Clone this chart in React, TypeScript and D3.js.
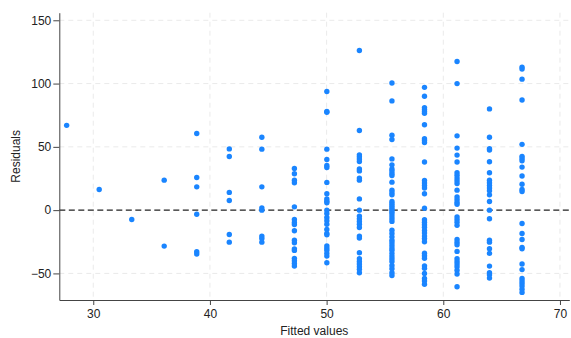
import { useEffect, useRef } from 'react';
import * as d3 from 'd3';

// fitted value for each column of points
const fittedValues = [27.72, 30.51, 33.3, 36.08, 38.87, 41.66, 44.45, 47.24, 50.02, 52.81, 55.6, 58.39, 61.18, 63.96, 66.75];

// residuals at each fitted value (same order as fittedValues)
const residualGroups: number[][] = [
  [67],
  [16.3],
  [-7.4],
  [23.7, -28.4],
  [60.5, 25.8, 18.4, -3.2, -32.9, -34.7],
  [48.4, 42.4, 14.0, 7.6, -19.2, -25.3],
  [57.6, 48.2, 18.4, 1.8, 0, -20.5, -22.4, -25.3],
  [32.9, 28.7, 23.7, 21.6, 2.6, -7.3, -9.7, -11.3, -16.3, -23.7, -25.8, -30.6, -31.8, -38.1, -40.0, -42.1, -44.2],
  [93.7, 77.9, 77.4, 48.2, 40.0, 35.3, 33.7, 21.9, 12.9, 8.9, 7.1, 5.8, 0, -2.6, -5.8, -8.4, -11.1, -15.2, -18.4, -19.5, -28.2, -30.0, -31.6, -34.2, -36.3, -41.6],
  [126.1, 62.9, 43.7, 42.1, 40.5, 38.4, 32.6, 31.0, 25.3, 23.7, 8.9, 0, -4.7, -6.9, -8.9, -11.1, -13.7, -20.5, -22.1, -33.7, -38.4, -40.5, -42.6, -44.7, -46.8, -49.5],
  [100.5, 86.3, 59.2, 55.8, 40.5, 35.8, 32.6, 31, 29, 27.4, 22.1, 15.8, 13.7, 12.1, 6.8, 5.3, 3.7, 2.1, 0.5, -1.1, -2.6, -4.7, -6.8, -8.9, -15.8, -18.4, -21.1, -23.7, -25.8, -27.9, -30, -31.6, -34.2, -36.3, -38.4, -40.5, -43.7, -46.3, -49.5, -51.6],
  [97, 90, 81, 79.5, 78, 76.5, 67.5, 56.5, 55, 53.5, 38, 23.5, 21.5, 19.5, 17.5, 13, 1.5, -7.5, -9.5, -11.5, -13.5, -16, -18, -20.5, -22.5, -25, -34, -36, -38, -44, -46, -50, -54, -56, -58.5],
  [117.5, 100, 58.7, 49, 43.5, 38, 29.5, 27.5, 25.3, 23.2, 21, 15.8, 10.5, 8.4, 6.3, 4.7, -5.3, -7.4, -9.5, -12, -23.2, -25.3, -27.4, -32.6, -38.4, -40.5, -42.6, -44.7, -47.5, -50.5, -60.5],
  [80, 57.6, 48.5, 47.5, 38.2, 29.5, 23.7, 21.6, 19.5, 17.4, 15.3, 12.1, 6.8, 0, -6.8, -23.7, -25.3, -30.5, -34.2, -44.2, -49.5, -51.1, -53.7],
  [113, 111.5, 103.5, 87, 52, 42.5, 40.8, 39, 34, 27, 20.5, 16.3, 14.7, -10.5, -18.4, -23.2, -29.5, -30.5, -42.6, -47, -54, -56, -58, -60, -62.5, -65],
];

const xTicks = [30, 40, 50, 60, 70];
const yTicks = [-50, 0, 50, 100, 150];

const W = 571;
const H = 338;
const font = '"Liberation Sans", Arial, sans-serif';

export default function App() {
  const svgRef = useRef<SVGSVGElement>(null);

  useEffect(() => {
    if (!svgRef.current) return;
    const svg = d3.select(svgRef.current);
    svg.selectAll('*').remove();

    const left = 59.3, right = 569.3, top = 12.7, bottom = 300;
    const x = d3.scaleLinear().domain([27.09, 70.8]).range([left, right]);
    const y = d3.scaleLinear().domain([-71, 156]).range([bottom, top]);

    const points = fittedValues.flatMap((f, i) => residualGroups[i].map((r) => ({ f, r })));

    // Gridlines
    svg.append('g')
      .selectAll('line')
      .data(xTicks)
      .join('line')
      .attr('x1', (d) => x(d)).attr('x2', (d) => x(d))
      .attr('y1', top).attr('y2', bottom)
      .attr('stroke', '#eaeaea')
      .attr('stroke-dasharray', '5,4');
    svg.append('g')
      .selectAll('line')
      .data(yTicks.filter((d) => d !== 0))
      .join('line')
      .attr('x1', left).attr('x2', right)
      .attr('y1', (d) => y(d)).attr('y2', (d) => y(d))
      .attr('stroke', '#eaeaea')
      .attr('stroke-dasharray', '5,4');

    // Zero reference line
    svg.append('line')
      .attr('x1', left).attr('x2', right)
      .attr('y1', y(0)).attr('y2', y(0))
      .attr('stroke', '#222')
      .attr('stroke-width', 1.1)
      .attr('stroke-dasharray', '6,3.5');

    // Points
    svg.append('g')
      .selectAll('circle')
      .data(points)
      .join('circle')
      .attr('cx', (d) => x(d.f))
      .attr('cy', (d) => y(d.r))
      .attr('r', 2.7)
      .attr('fill', '#1a85ff');

    // Axes
    const styleAxis = (ax: d3.Selection<SVGGElement, unknown, null, undefined>) => {
      ax.select('.domain').attr('stroke', '#444');
      ax.selectAll('.tick line').attr('stroke', '#444');
      ax.selectAll('.tick text')
        .attr('fill', '#222')
        .attr('font-size', '12px')
        .attr('font-family', font);
    };

    svg.append('g')
      .attr('transform', `translate(0,${bottom})`)
      .call(d3.axisBottom(x).tickValues(xTicks).tickSize(5).tickSizeOuter(0).tickPadding(4))
      .call(styleAxis);

    svg.append('g')
      .attr('transform', `translate(${left},0)`)
      .call(d3.axisLeft(y).tickValues(yTicks).tickSize(6).tickSizeOuter(0).tickPadding(2))
      .call(styleAxis);

    // Axis titles
    svg.append('text')
      .attr('x', (left + right) / 2)
      .attr('y', 335)
      .attr('text-anchor', 'middle')
      .attr('font-size', '12px')
      .attr('font-family', font)
      .attr('fill', '#222')
      .text('Fitted values');

    svg.append('text')
      .attr('transform', `translate(20,${(top + bottom) / 2}) rotate(-90)`)
      .attr('text-anchor', 'middle')
      .attr('font-size', '12px')
      .attr('font-family', font)
      .attr('fill', '#222')
      .text('Residuals');
  }, []);

  return (
    <svg
      ref={svgRef}
      width={W}
      height={H}
      style={{ position: 'absolute', left: 0, top: 0, background: '#fff' }}
    />
  );
}
